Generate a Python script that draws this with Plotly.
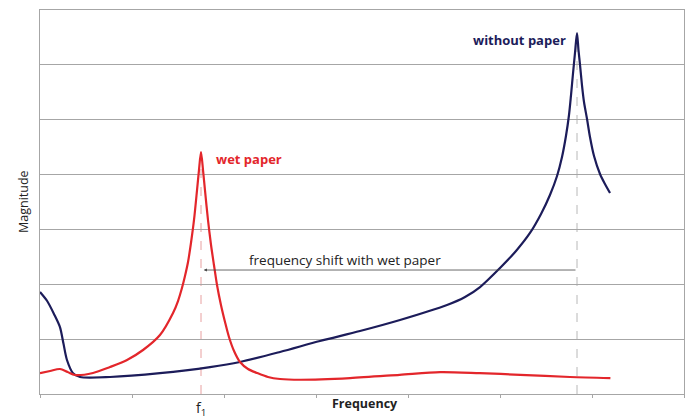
import plotly.graph_objects as go

# Frequency (arbitrary units) and magnitude readings
blue_x = [0, 0.076, 0.152, 0.217, 0.255, 0.293, 0.359, 0.435, 0.761, 1.304, 1.848, 2.174, 2.609, 3.043, 3.478, 3.913, 4.424, 4.620, 4.783,
          5.0, 5.174, 5.326, 5.446, 5.543, 5.620, 5.674, 5.717, 5.750, 5.772, 5.793, 5.815, 5.837,
          5.853, 5.870, 5.891, 5.913, 5.946, 5.978, 6.022, 6.087, 6.141, 6.196]
blue_y = [1.86, 1.70, 1.46, 1.22, 0.92, 0.62, 0.38, 0.31, 0.31, 0.38, 0.49, 0.583, 0.766, 0.966, 1.148, 1.349, 1.622, 1.768, 1.950,
          2.297, 2.607, 2.935, 3.281, 3.627, 3.974, 4.320, 4.703, 5.086, 5.450, 5.833, 6.216, 6.580,
          6.271, 5.997, 5.632, 5.323, 5.013, 4.685, 4.338, 4.010, 3.827, 3.663]

red_x = [0, 0.11, 0.217, 0.30, 0.380, 0.576, 0.761, 0.946, 1.120, 1.304, 1.446, 1.500, 1.543, 1.576, 1.609, 1.641, 1.674, 1.707, 1.728, 1.750,
         1.772, 1.793, 1.826, 1.859, 1.891, 1.924, 1.967, 2.011, 2.054, 2.109, 2.174, 2.261, 2.359, 2.478, 2.609,
         2.83, 3.37, 3.91, 4.35, 4.78, 5.22, 5.76, 6.20]
red_y = [0.38, 0.42, 0.456, 0.40, 0.346, 0.383, 0.492, 0.620, 0.802, 1.075, 1.476, 1.695, 1.932, 2.151, 2.406, 2.753, 3.172, 3.719, 4.083, 4.411,
         4.083, 3.719, 3.172, 2.716, 2.351, 1.987, 1.622, 1.312, 1.039, 0.784, 0.583, 0.456, 0.383, 0.310, 0.273,
         0.26, 0.29, 0.35, 0.40, 0.38, 0.35, 0.31, 0.29]

x_ticks = [0, 1, 2, 3, 4, 5, 6, 7]
y_ticks = [0, 1, 2, 3, 4, 5, 6, 7]
arrow_level = 2.26

NAVY = "#1c1c5a"
RED = "#e3262b"
GRID = "#a6a6a6"
FONT = "Open Sans, Liberation Sans, Arial"

blue_peak_i = max(range(len(blue_y)), key=lambda i: blue_y[i])
red_peak_i = max(range(len(red_y)), key=lambda i: red_y[i])
bx, by = blue_x[blue_peak_i], blue_y[blue_peak_i]
rx, ry = red_x[red_peak_i], red_y[red_peak_i]

fig = go.Figure()
fig.add_trace(go.Scatter(x=blue_x, y=blue_y, mode="lines", line=dict(color=NAVY, width=2.2, shape="spline", smoothing=0.8), showlegend=False))
fig.add_trace(go.Scatter(x=red_x, y=red_y, mode="lines", line=dict(color=RED, width=2.2, shape="spline", smoothing=0.8), showlegend=False))

# dashed guide lines
fig.add_shape(type="line", x0=rx, x1=rx, y0=0, y1=ry, line=dict(color="#e8a0a0", width=1, dash="dash"), layer="below")
fig.add_shape(type="line", x0=bx, x1=bx, y0=0, y1=by, line=dict(color="#b8b8b8", width=1, dash="dash"), layer="below")

fig.add_annotation(x=rx + 0.03, y=arrow_level, ax=bx, ay=arrow_level, xref="x", yref="y", axref="x", ayref="y",
                   showarrow=True, arrowhead=2, arrowsize=0.8, arrowwidth=0.8, arrowcolor="#444444", text="")
fig.add_annotation(x=3.32, y=arrow_level, yshift=10, text="frequency shift with wet paper", showarrow=False,
                   font=dict(family=FONT, size=13.5, color="#222222"))
fig.add_annotation(x=rx + 0.14, y=ry - 0.13, xanchor="left", text="<b>wet paper</b>", showarrow=False,
                   font=dict(family=FONT, size=13, color=RED))
fig.add_annotation(x=bx - 0.1, y=by - 0.13, xanchor="right", text="<b>without paper</b>", showarrow=False,
                   font=dict(family=FONT, size=13, color=NAVY))
fig.add_annotation(x=rx, y=0, yref="y", yshift=-14, text="f<sub>1</sub>", showarrow=False,
                   font=dict(family=FONT, size=14, color="#222222"))
fig.add_annotation(x=0.505, xref="paper", y=0, yref="paper", yshift=-20, text="<b>Frequency</b>", showarrow=False,
                   font=dict(family=FONT, size=12.5, color="#222222"))
fig.add_annotation(x=0, xref="paper", xanchor="center", yanchor="middle", xshift=-17, y=0.5, yref="paper",
                   textangle=-90, text="Magnitude", showarrow=False, font=dict(family=FONT, size=12.5, color="#222222"))

fig.update_xaxes(range=[x_ticks[0], x_ticks[-1]], tickvals=x_ticks, showticklabels=False, ticks="outside", ticklen=3,
                 tickcolor=GRID, showgrid=False, zeroline=False, showline=True, linecolor=GRID, linewidth=1, mirror=True)
fig.update_yaxes(range=[y_ticks[0], y_ticks[-1]], tickvals=y_ticks, showticklabels=False, ticks="", showgrid=True,
                 gridcolor=GRID, gridwidth=1, zeroline=False, showline=True, linecolor=GRID, linewidth=1, mirror=True)

fig.update_layout(width=686, height=418, margin=dict(l=40, r=2, t=10, b=24), plot_bgcolor="white", paper_bgcolor="white")
fig.write_html("out.html")
